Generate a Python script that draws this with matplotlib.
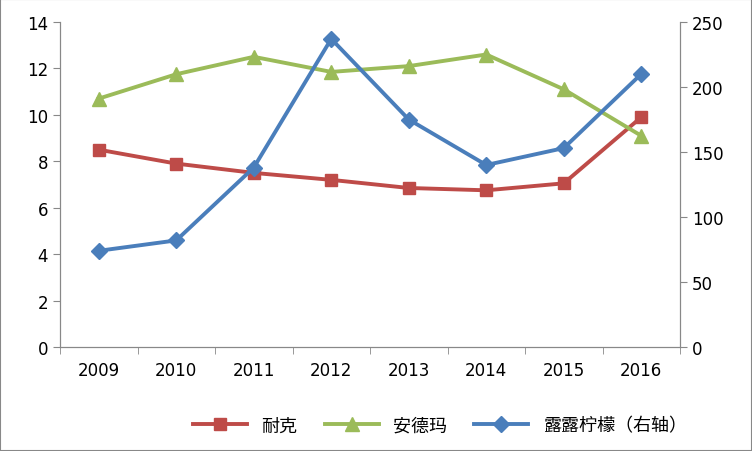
import matplotlib.pyplot as plt
from matplotlib import font_manager
from matplotlib.patches import Rectangle

cjk = [f.name for f in font_manager.fontManager.ttflist if "CJK" in f.name]
plt.rcParams["font.family"] = ["DejaVu Sans"] + (cjk[:1] if cjk else ["Noto Sans CJK SC"])

years = ["2009", "2010", "2011", "2012", "2013", "2014", "2015", "2016"]
nike = [8.5, 7.9, 7.5, 7.2, 6.85, 6.75, 7.05, 9.9]
ua = [10.7, 11.75, 12.5, 11.85, 12.1, 12.6, 11.1, 9.1]
lulu = [74, 82, 138, 237, 175, 140, 153, 210]

fig = plt.figure(figsize=(7.52, 4.52), dpi=100)
fig.patches.append(Rectangle((0, 0), 1, 1, transform=fig.transFigure, fill=False,
                             edgecolor="#888888", linewidth=1.5))
ax = fig.add_axes([60 / 752, 104 / 452, 620 / 752, 325 / 452])
ax2 = ax.twinx()
x = list(range(len(years)))

l1, = ax.plot(x, nike, color="#BE4B48", marker="s", markersize=9, linewidth=2.8, label="耐克")
l2, = ax.plot(x, ua, color="#9BBB59", marker="^", markersize=10, linewidth=2.8, label="安德玛")
l3, = ax2.plot(x, lulu, color="#4A7EBB", marker="D", markersize=8, linewidth=2.8, label="露露柠檬（右轴）")

ax.set_xlim(-0.5, len(years) - 0.5)
ax.set_ylim(0, 14)
ax.set_yticks(range(0, 15, 2))
ax2.set_ylim(0, 250)
ax2.set_yticks(range(0, 251, 50))
ax.set_xticks(x)
ax.set_xticklabels(years)
ax.set_xticks([i - 0.5 for i in range(len(years) + 1)], minor=True)
ax.tick_params(axis="x", which="major", length=0, pad=10)
ax.tick_params(axis="x", which="minor", length=5, color="#888888")
for a in (ax, ax2):
    a.tick_params(axis="y", length=5, color="#888888", labelsize=12)
    a.tick_params(axis="x", labelsize=12)
    a.spines["top"].set_visible(False)
    for s in ("left", "right", "bottom"):
        a.spines[s].set_color("#888888")

fig.legend(handles=[l1, l2, l3], loc="lower center", bbox_to_anchor=(0.585, 0.0),
           ncol=3, frameon=False, fontsize=13, handlelength=3, columnspacing=1.5)
fig.savefig("out.png", dpi=100)
